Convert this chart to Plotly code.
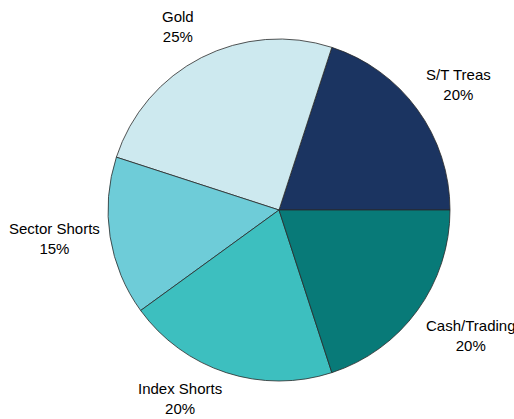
import math
import plotly.graph_objects as go

labels = ["S/T Treas", "Gold", "Sector Shorts", "Index Shorts", "Cash/Trading"]
values = [20, 25, 15, 20, 20]
colors = ["#1B3461", "#CDE9EF", "#6ECCD8", "#3DBFBF", "#087A78"]

W, H = 514, 419
cx, cy = 279, 210      # pie centre (pixels from top-left)
r_pie = 171            # pie radius in pixels
r_lab = 179            # label anchor radius in pixels
FS = 15
block_h = 2 * 1.3 * FS + 2   # approx. height of a two-line label

dom = dict(x=[(cx - r_pie) / W, (cx + r_pie) / W],
           y=[(H - cy - r_pie) / H, (H - cy + r_pie) / H])

fig = go.Figure(go.Pie(
    labels=labels, values=values, sort=False,
    direction="counterclockwise", rotation=18,
    marker=dict(colors=colors, line=dict(color="#2a2a2a", width=0.8)),
    textinfo="none", domain=dom, hoverinfo="skip",
))

# outside labels, placed at each slice's mid-angle (first slice starts at 3 o'clock, counter-clockwise)
total = sum(values)
start = 0.0
annotations = []
for lab, v in zip(labels, values):
    mid = math.radians(start + 360.0 * v / total / 2)
    start += 360.0 * v / total
    c, s = math.cos(mid), math.sin(mid)
    xa = "left" if c > 0.2 else ("right" if c < -0.2 else "center")
    ya = "bottom" if s > 0.2 else ("top" if s < -0.2 else "middle")
    r = r_lab + (4 if s > 0.2 and c < 0 else 0)
    px = cx + r * c
    py = cy - r * s
    if ya == "top":
        py = min(py, H - block_h)
    annotations.append(dict(
        x=px / W, y=(H - py) / H, xref="paper", yref="paper",
        xanchor=xa, yanchor=ya, showarrow=False, align="center",
        text=f"{lab}<br>{round(100 * v / total)}%",
        font=dict(family="Liberation Sans, Arial, sans-serif", size=FS, color="#000000"),
    ))

fig.update_layout(
    width=W, height=H,
    margin=dict(l=0, r=0, t=0, b=0),
    showlegend=False,
    paper_bgcolor="white",
    plot_bgcolor="white",
    annotations=annotations,
)

fig.write_html("out.html", post_script="document.body.style.margin='0';",
               config={"displayModeBar": False})
